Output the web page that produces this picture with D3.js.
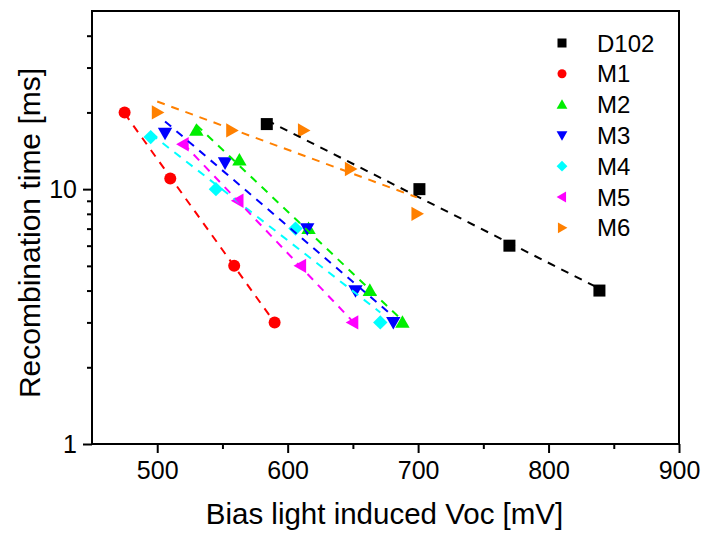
<!DOCTYPE html>
<html><head><meta charset="utf-8">
<script src="https://cdn.jsdelivr.net/npm/d3@7"></script>
<style>body{margin:0;background:#fff;} svg{display:block;} text{font-family:"Liberation Sans",Arial,sans-serif;fill:#000;}</style>
</head><body><svg id="c" width="709" height="542"></svg>
<script>
const seriesNames = ["D102","M1","M2","M3","M4","M5","M6"];
const seriesColors = ["#000000","#ff0000","#00ee00","#0000ff","#00ffff","#ff00ff","#ff8000"];
const seriesShapes = ["square","circle","triUp","triDown","diamond","triLeft","triRight"];
const xD102 = [584,701,770,839];           const yD102 = [18,10,6,4];
const xM1 = [475,510,559,590];             const yM1 = [20,11,5,3];
const xM2 = [530,563,616,663,688];         const yM2 = [17,13,7,4,3];
const xM3 = [506,552,615,652,681];         const yM3 = [16.6,12.7,7,4,3];
const xM4 = [495,545,606,671];             const yM4 = [16,10,7,3];
const xM5 = [520,562,610,650];             const yM5 = [15,9,5,3];
const xM6 = [500,557,612,648,699];         const yM6 = [20,17,17,12,8];
const xTicks = [500,600,700,800,900];
const xMinor = [550,650,750,850];
const yTicks = [1,10];
const yMinor = [2,3,4,5,6,7,8,9,20,30,40];
const xTitle = "Bias light induced Voc [mV]";
const yTitle = "Recombination time [ms]";

const X = [xD102,xM1,xM2,xM3,xM4,xM5,xM6];
const Y = [yD102,yM1,yM2,yM3,yM4,yM5,yM6];

const L=92,T=11,R=679,B=444;
const x = d3.scaleLinear().domain([450,900]).range([L,R]);
const y = d3.scaleLog().domain([1,50]).range([B,T]);
const svg = d3.select("#c");

svg.append("g").attr("transform",`translate(0,${B})`)
  .call(d3.axisBottom(x).tickValues(xTicks).tickSize(9).tickPadding(8).tickFormat(d3.format("d")));
svg.append("g").attr("transform",`translate(0,${B})`)
  .call(d3.axisBottom(x).tickValues(xMinor).tickSize(5).tickFormat(""));
svg.append("g").attr("transform",`translate(${L},0)`)
  .call(d3.axisLeft(y).tickValues(yTicks).tickSize(9).tickPadding(6).tickFormat(d3.format("d")));
svg.append("g").attr("transform",`translate(${L},0)`)
  .call(d3.axisLeft(y).tickValues(yMinor).tickSize(5).tickFormat(""));
svg.selectAll(".domain").remove();
svg.selectAll(".tick line").attr("stroke","#000").attr("stroke-width",2);
svg.selectAll(".tick text").style("font-size","25px").attr("fill","#000");
svg.append("rect").attr("x",L).attr("y",T).attr("width",R-L).attr("height",B-T)
  .attr("fill","none").attr("stroke","#000").attr("stroke-width",2);

svg.append("text").attr("x",(206+563)/2).attr("y",524).attr("text-anchor","middle")
  .style("font-size","29.5px").text(xTitle);
svg.append("text").attr("transform",`translate(40,233) rotate(-90)`).attr("text-anchor","middle")
  .style("font-size","30px").text(yTitle);

function marker(g, shape, cx, cy, s, color){
  const h=s/2;
  let p;
  if(shape==="square") p=g.append("rect").attr("x",cx-h).attr("y",cy-h).attr("width",s).attr("height",s);
  else if(shape==="circle") p=g.append("circle").attr("cx",cx).attr("cy",cy).attr("r",h);
  else {
    let pts;
    const a=h*1.2;
    if(shape==="triUp") pts=[[cx,cy-a],[cx+a,cy+a*0.75],[cx-a,cy+a*0.75]];
    if(shape==="triDown") pts=[[cx,cy+a],[cx+a,cy-a*0.75],[cx-a,cy-a*0.75]];
    if(shape==="triLeft") pts=[[cx-a,cy],[cx+a*0.75,cy-a],[cx+a*0.75,cy+a]];
    if(shape==="triRight") pts=[[cx+a,cy],[cx-a*0.75,cy-a],[cx-a*0.75,cy+a]];
    if(shape==="diamond") pts=[[cx,cy-a],[cx+a,cy],[cx,cy+a],[cx-a,cy]];
    p=g.append("polygon").attr("points",pts.map(q=>q.join(",")).join(" "));
  }
  p.attr("fill",color);
}

const gm = svg.append("g");
seriesNames.forEach((n,i)=>{
  X[i].forEach((xv,j)=>marker(gm, seriesShapes[i], x(xv), y(Y[i][j]), 12, seriesColors[i]));
});
const gl = svg.append("g");
seriesNames.forEach((n,i)=>{
  const xs=X[i], ls=Y[i].map(v=>Math.log10(v));
  const mx=d3.mean(xs), my=d3.mean(ls);
  const k=d3.sum(xs.map((v,j)=>(v-mx)*(ls[j]-my)))/d3.sum(xs.map(v=>(v-mx)**2));
  const x0=d3.min(xs), x1=d3.max(xs);
  gl.append("line").attr("x1",x(x0)).attr("y1",y(10**(my+k*(x0-mx))))
    .attr("x2",x(x1)).attr("y2",y(10**(my+k*(x1-mx))))
    .attr("stroke",seriesColors[i]).attr("stroke-width",2).attr("stroke-dasharray","8,7");
});
const lg = svg.append("g");
seriesNames.forEach((n,i)=>{
  const cy = 43 + i*30.8;
  marker(lg, seriesShapes[i], 562, cy, 9, seriesColors[i]);
  lg.append("text").attr("x",597).attr("y",cy+8.5).style("font-size","24px").text(n);
});
</script></body></html>
